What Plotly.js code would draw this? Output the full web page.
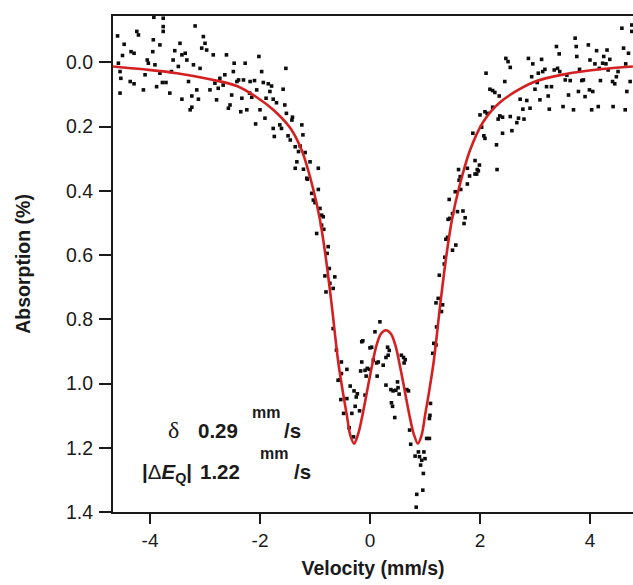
<!DOCTYPE html>
<html>
<head>
<meta charset="utf-8">
<script src="https://cdn.plot.ly/plotly-3.0.1.min.js"></script>
<style>
  html, body { margin: 0; padding: 0; background: #fff; }
  #chart { width: 633px; height: 585px; }
</style>
</head>
<body>
<div id="chart"></div>
<script>
// Measured data points (velocity in mm/s, absorption in %)
const velocity = [
  -4.59,-4.47,-4.50,-4.575,-4.545,-4.53,-4.545,-4.345,-4.29,-4.36,-4.29,-4.24,-4.21,-4.12,-4.09,-4.05,-4.03,-3.94,-3.95,-3.91,
  -3.88,-3.82,-3.82,-3.76,-3.76,-3.76,-3.775,-3.71,-3.64,-3.61,-3.58,-3.55,-3.485,-3.455,-3.42,-3.42,-3.36,-3.33,-3.30,-3.27,
  -3.24,-3.24,-3.21,-3.18,-3.15,-3.12,-3.09,-3.06,-3.03,-3.00,-2.97,-2.91,-2.85,-2.82,-2.79,-2.76,-2.73,-2.67,-2.64,-2.61,
  -2.575,-2.545,-2.515,-2.485,-2.47,-2.42,-2.39,-2.35,-2.33,-2.30,-2.27,-2.24,-2.19,-2.18,-2.15,-2.10,-2.08,-2.06,-2.02,-2.00,
  -1.97,-1.94,-1.91,-1.89,-1.85,-1.82,-1.79,-1.76,-1.76,-1.74,-1.70,-1.64,-1.61,-1.58,-1.55,-1.53,-1.52,-3.93,
  -1.41,-1.42,-1.24,-1.22,-1.49,-1.45,-1.36,-1.27,-1.30,-1.18,-1.33,-1.09,-1.36,-1.21,-0.94,
  -1.15,-1.14,-0.94,-1.06,-1.03,-1.00,-0.91,-0.88,-0.85,-0.88,-0.84,-0.97,-0.76,-0.78,-0.74,-0.82,-0.64,-0.73,-0.67,-0.80,-0.67,
  -0.61,-0.52,-0.58,-0.55,-0.42,-0.52,-0.53,-0.42,-0.48,-0.33,-0.36,-0.29,-0.25,-0.23,-0.27,-0.19,-0.38,-0.30,-0.15,-0.13,
  -0.15,-0.17,-0.09,-0.05,-0.01,-0.07,-0.09,0.00,0.03,0.09,0.18,0.06,0.12,0.15,0.13,0.24,0.29,0.32,0.35,0.33,
  0.29,0.38,0.42,0.47,0.50,0.51,0.53,0.39,0.41,0.45,0.57,0.61,0.64,0.62,0.67,0.70,0.72,0.74,0.82,0.88,
  0.90,0.94,1.00,0.98,1.03,1.08,0.92,0.97,0.96,0.85,0.84,1.09,1.10,1.08,1.16,1.20,1.14,
  1.24,1.20,1.32,1.30,1.21,
  1.91,1.99,1.95,1.91,1.94,1.97,2.31,1.77,1.81,1.77,1.61,1.64,1.62,1.65,1.55,1.44,1.59,1.50,1.69,1.73,
  1.71,1.42,1.45,1.38,1.41,1.56,1.50,1.36,1.35,1.26,
  2.11,2.18,2.23,2.27,2.35,2.45,2.47,2.51,2.55,2.00,2.09,2.13,2.23,2.36,2.41,2.33,1.87,2.03,2.07,2.09,
  2.41,2.30,2.58,2.55,2.67,2.70,2.73,2.78,2.80,2.85,2.88,2.91,2.94,2.96,3.00,3.04,3.06,3.09,3.12,3.14,
  3.18,3.21,3.24,3.26,3.30,3.35,3.39,3.41,3.44,3.45,3.51,3.55,3.58,3.61,3.64,3.70,3.73,3.75,3.76,3.79,
  3.81,3.85,3.88,3.91,3.97,3.99,4.00,4.03,4.05,4.09,4.12,4.15,4.17,4.19,4.23,4.25,4.29,4.31,4.33,4.36,
  4.41,4.42,4.45,4.48,4.51,4.58,4.61,4.64,4.65,4.67,4.70,4.73,4.76,4.76
];
const absorption = [
  -0.082,-0.056,-0.021,0.003,0.029,0.050,0.096,-0.033,-0.028,0.060,0.067,-0.096,-0.085,0.086,0.039,-0.007,0.003,-0.070,-0.033,0.008,
  0.076,-0.054,0.034,-0.137,-0.111,-0.096,0.063,0.063,0.096,0.029,-0.007,-0.036,0.013,-0.059,-0.023,0.115,-0.028,-0.007,0.060,0.148,
  0.105,0.140,0.008,-0.113,0.086,0.115,0.019,-0.044,-0.080,-0.059,-0.038,0.086,-0.023,0.065,0.117,0.081,0.050,0.071,0.039,-0.023,
  0.143,0.133,0.102,0.029,0.003,0.060,0.055,0.154,0.112,0.055,0.003,0.148,0.096,0.060,0.109,0.057,0.192,0.086,-0.018,0.148,
  0.029,0.063,0.174,0.112,0.067,0.091,0.074,0.206,0.115,0.231,0.126,0.195,0.206,0.084,0.133,0.019,0.159,-0.140,
  0.171,0.180,0.195,0.226,0.229,0.242,0.263,0.261,0.278,0.281,0.310,0.310,0.330,0.333,0.330,
  0.361,0.364,0.396,0.408,0.429,0.437,0.455,0.476,0.481,0.507,0.520,0.533,0.574,0.595,0.642,0.665,0.668,0.688,0.704,0.715,0.829,
  0.896,0.933,0.990,0.988,0.956,0.969,1.050,1.047,1.093,1.093,1.008,1.023,1.042,1.032,1.071,1.085,1.138,1.166,0.870,0.867,
  0.933,0.961,0.959,0.953,0.956,0.977,1.036,0.889,0.887,0.839,0.808,0.927,0.936,0.933,0.977,0.943,0.919,0.887,0.897,0.912,
  1.005,1.019,1.023,1.021,0.995,1.013,1.033,1.060,1.071,1.106,0.912,0.919,0.926,0.936,1.019,1.023,1.145,1.189,1.226,1.213,
  1.228,1.239,1.234,1.213,1.171,1.171,1.254,1.280,1.332,1.345,1.385,1.099,1.062,1.109,0.875,0.880,0.906,
  0.735,0.749,0.755,0.776,0.824,
  0.306,0.320,0.334,0.348,0.348,0.338,0.334,0.330,0.354,0.379,0.334,0.356,0.367,0.396,0.403,0.427,0.465,0.471,0.463,0.484,
  0.502,0.489,0.486,0.551,0.545,0.569,0.585,0.607,0.628,0.663,
  0.034,0.084,0.088,0.094,0.105,0.060,-0.012,-0.002,0.016,0.164,0.154,0.159,0.140,0.167,0.171,0.177,0.221,0.202,0.229,0.237,
  0.221,0.257,0.213,0.169,0.188,0.174,0.115,0.146,0.177,0.119,-0.012,0.143,0.045,0.005,0.084,0.063,0.034,0.117,-0.009,0.029,
  0.022,0.076,0.105,0.146,0.076,0.024,-0.049,0.019,-0.026,0.029,0.138,0.055,0.040,0.102,0.057,0.148,-0.075,-0.049,-0.018,0.091,
  0.022,0.057,0.055,0.107,-0.054,0.086,-0.007,0.148,0.091,0.005,-0.036,0.138,0.019,0.057,0.003,-0.018,0.005,-0.038,0.024,-0.009,
  0.060,0.138,0.067,0.045,0.029,-0.106,-0.044,0.148,0.005,0.091,-0.028,0.060,-0.116,-0.096
];

// Fitted doublet curve
const fitVelocity = [-4.67,-4.12,-3.51,-2.91,-2.42,-2.06,-1.76,-1.45,-1.24,-1.04,-0.91,-0.81,-0.70,-0.58,-0.49,-0.42,-0.36,-0.29,-0.22,-0.15,
  -0.06,0.03,0.12,0.20,0.29,0.38,0.46,0.55,0.64,0.73,0.80,0.87,0.94,1.00,1.07,1.16,1.28,1.39,1.49,1.62,
  1.82,2.06,2.36,2.97,3.58,4.18,4.78];
const fitAbsorption = [0.013,0.022,0.034,0.053,0.074,0.109,0.148,0.205,0.275,0.390,0.490,0.600,0.750,0.930,1.030,1.100,1.160,1.187,1.160,1.110,
  1.030,0.950,0.880,0.845,0.834,0.845,0.880,0.950,1.030,1.110,1.160,1.187,1.160,1.100,1.030,0.930,0.750,0.600,0.490,0.390,
  0.273,0.185,0.125,0.062,0.036,0.022,0.013];

const yTickVals = [0, 0.2, 0.4, 0.6, 0.8, 1.0, 1.2, 1.4];
const xTickVals = [-4, -2, 0, 2, 4];
const xTickText = ['-4', '-2', '0', '2', '4'];

const SANS = 'Liberation Sans, Arial, Helvetica, sans-serif';
const INK = '#1a1a1a';

const traces = [
  {
    x: velocity, y: absorption, type: 'scatter', mode: 'markers',
    marker: { symbol: 'square', size: 3.6, color: '#0d0d0d', line: { width: 0 } },
    hoverinfo: 'skip', showlegend: false
  },
  {
    x: fitVelocity, y: fitAbsorption, type: 'scatter', mode: 'lines',
    line: { color: '#d42020', width: 2.6, shape: 'spline', smoothing: 0.9 },
    hoverinfo: 'skip', showlegend: false
  }
];

function px2x(px) { return (px - 113) / 520; }
function py2y(py) { return (512 - py) / 496; }

const annFont = { family: SANS, size: 20.5, color: INK };
const annotations = [
  { text: 'δ', x: px2x(166), y: py2y(430), font: { family: 'Liberation Serif, Times New Roman, serif', size: 24, color: INK } },
  { text: '<b>0.29</b>', x: px2x(196), y: py2y(430), font: annFont },
  { text: '<b>mm</b>', x: px2x(250), y: py2y(412), font: { family: SANS, size: 16, color: INK } },
  { text: '<b>/s</b>', x: px2x(282), y: py2y(430), font: annFont },
  { text: '<b>|</b>Δ<b><i>E</i><sub>Q</sub>|</b>', x: px2x(140), y: py2y(473), font: { family: SANS, size: 20.5, color: INK } },
  { text: '<b>1.22</b>', x: px2x(198), y: py2y(471), font: annFont },
  { text: '<b>mm</b>', x: px2x(258), y: py2y(453), font: { family: SANS, size: 16, color: INK } },
  { text: '<b>/s</b>', x: px2x(292), y: py2y(471), font: annFont }
].map(a => Object.assign({ xref: 'paper', yref: 'paper', xanchor: 'left', yanchor: 'middle', showarrow: false }, a));

const layout = {
  width: 633, height: 585,
  margin: { l: 113, r: 0, t: 16, b: 73, pad: 0 },
  paper_bgcolor: '#ffffff', plot_bgcolor: '#ffffff',
  showlegend: false,
  xaxis: {
    range: [-4.673, 4.782],
    tickvals: xTickVals, ticktext: xTickText,
    ticks: 'outside', ticklen: 10, tickwidth: 2, tickcolor: INK,
    showline: true, linewidth: 2, linecolor: INK, mirror: true,
    showgrid: false, zeroline: false,
    tickfont: { family: SANS, size: 19, color: INK },
    title: { text: 'Velocity (mm/s)', font: { family: SANS, size: 19.5, color: INK, weight: 'bold' }, standoff: 12 },
    automargin: false
  },
  yaxis: {
    range: [1.4, -0.144],
    tickvals: yTickVals, tickformat: '.1f',
    ticks: 'outside', ticklen: 12, tickwidth: 2, tickcolor: INK,
    showline: true, linewidth: 2, linecolor: INK, mirror: false,
    showgrid: false, zeroline: false,
    tickfont: { family: SANS, size: 19.5, color: INK },
    ticklabelstandoff: 2,
    title: { text: 'Absorption (%)', font: { family: SANS, size: 19.5, color: INK, weight: 'bold' }, standoff: 30 },
    automargin: false
  },
  annotations: annotations
};

Plotly.newPlot('chart', traces, layout, { displayModeBar: false, staticPlot: true });
</script>
</body>
</html>
